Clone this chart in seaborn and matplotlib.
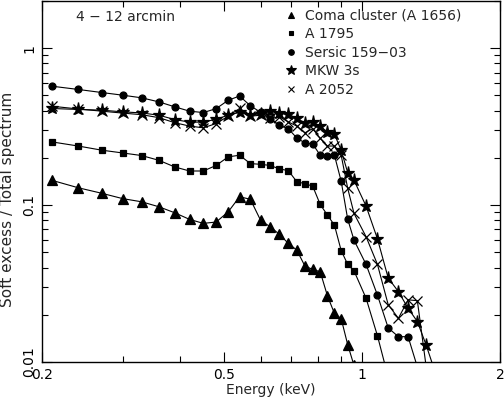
import pandas as pd
import seaborn as sns
import matplotlib.pyplot as plt
from matplotlib.lines import Line2D
from matplotlib.ticker import FixedLocator, NullFormatter

# Энергии (кэВ)
e_coma = [0.21, 0.24, 0.27, 0.30, 0.33, 0.36, 0.39, 0.42, 0.45, 0.48, 0.51, 0.54, 0.57,
          0.60, 0.63, 0.66, 0.69, 0.72, 0.75, 0.78, 0.81, 0.84, 0.87, 0.90, 0.93, 0.96]
e_a1795 = e_coma + [1.02, 1.08, 1.14]
e_sersic = e_coma + [1.02, 1.08, 1.14, 1.20, 1.26, 1.32]
e_mkw = e_coma + [1.02, 1.08, 1.14, 1.20, 1.26, 1.32, 1.38, 1.44]
e_a2052 = e_coma + [1.02, 1.08, 1.14, 1.20, 1.26, 1.32, 1.38]

# Soft excess / Total spectrum
coma = [0.144, 0.129, 0.119, 0.110, 0.105, 0.0976, 0.0893, 0.0811, 0.0765, 0.078, 0.0906,
        0.113, 0.109, 0.0802, 0.0727, 0.0651, 0.057, 0.0517, 0.0409, 0.0389, 0.0376,
        0.0264, 0.0204, 0.0189, 0.0129, 0.0095]
a1795 = [0.253, 0.238, 0.224, 0.215, 0.207, 0.193, 0.175, 0.165, 0.165, 0.179, 0.203,
         0.208, 0.184, 0.182, 0.179, 0.170, 0.166, 0.141, 0.137, 0.132, 0.101, 0.0863,
         0.0746, 0.0513, 0.0419, 0.0381, 0.0255, 0.0147, 0.008]
sersic = [0.573, 0.546, 0.522, 0.502, 0.483, 0.455, 0.423, 0.397, 0.389, 0.412, 0.466,
          0.496, 0.430, 0.391, 0.356, 0.323, 0.307, 0.268, 0.249, 0.245, 0.208, 0.207,
          0.208, 0.142, 0.0814, 0.0598, 0.0419, 0.0267, 0.0165, 0.0145, 0.0145, 0.0093]
mkw = [0.413, 0.407, 0.403, 0.393, 0.387, 0.374, 0.351, 0.338, 0.338, 0.353, 0.374,
       0.391, 0.374, 0.383, 0.400, 0.384, 0.380, 0.357, 0.335, 0.339, 0.319, 0.292,
       0.283, 0.224, 0.161, 0.144, 0.0986, 0.061, 0.0343, 0.0281, 0.022, 0.0181,
       0.0128, 0.0088]
a2052 = [0.427, 0.410, 0.397, 0.386, 0.377, 0.361, 0.335, 0.319, 0.311, 0.331, 0.369,
         0.413, 0.369, 0.374, 0.357, 0.365, 0.339, 0.319, 0.289, 0.307, 0.266, 0.238,
         0.238, 0.208, 0.128, 0.0885, 0.0629, 0.0419, 0.0232, 0.019, 0.0249, 0.0246,
         0.0093]

names = ['Coma cluster (A 1656)', 'A 1795', 'Sersic 159\u221203', 'MKW 3s', 'A 2052']
energies = [e_coma, e_a1795, e_sersic, e_mkw, e_a2052]
ratios = [coma, a1795, sersic, mkw, a2052]
markers = ['^', 's', 'o', '*', 'x']
msizes = [7, 4.5, 5, 9.5, 6.5]
leg_sizes = [5, 3.5, 4, 7, 5]

df = pd.concat([pd.DataFrame({'Energy': e, 'Ratio': r, 'Cluster': n})
                for e, r, n in zip(energies, ratios, names)])

sns.set_style('ticks')
plt.rcParams['font.family'] = ['DejaVu Sans']
plt.rcParams['font.size'] = 10

fig = plt.figure(figsize=(5.04, 3.97), dpi=100)
ax = fig.add_axes([42 / 504, 1 - 362 / 397, 458 / 504, 361 / 397])

for n, m, s in zip(names, markers, msizes):
    sub = df[df['Cluster'] == n]
    sns.lineplot(data=sub, x='Energy', y='Ratio', marker=m, markersize=s,
                 color='black', mfc='black', mec='black', mew=0.9,
                 linewidth=0.8, estimator=None, sort=False, ax=ax)

ax.set_xscale('log')
ax.set_yscale('log')
ax.set_xlim(0.2, 2)
ax.set_ylim(0.01, 2)

ax.xaxis.set_major_locator(FixedLocator([0.2, 0.5, 1, 2]))
ax.xaxis.set_minor_locator(FixedLocator([0.3, 0.4, 0.6, 0.7, 0.8, 0.9]))
ax.set_xticklabels(['0.2', '0.5', '1', '2'])
ax.xaxis.set_minor_formatter(NullFormatter())
ax.yaxis.set_major_locator(FixedLocator([0.01, 0.1, 1]))
ax.set_yticklabels(['0.01', '0.1', '1'], rotation=90, va='center')
ax.yaxis.set_minor_formatter(NullFormatter())

ax.tick_params(which='both', direction='in', top=True, right=True, colors='black',
               labelsize=10, width=0.8)
ax.tick_params(which='major', length=7, pad=4)
ax.tick_params(which='minor', length=4)
for sp in ax.spines.values():
    sp.set_linewidth(1)
    sp.set_color('black')

ax.set_xlabel('Energy (keV)', fontsize=10)
ax.xaxis.set_label_coords(0.5, -0.058)
ax.set_ylabel('Soft excess / Total spectrum', fontsize=11)
ax.yaxis.set_label_coords(-0.058, 0.45)

ax.text(0.075, 0.955, '4 \u2212 12 arcmin', transform=ax.transAxes, fontsize=10,
        va='center', ha='left')

handles = [Line2D([], [], linestyle='none', marker=m, markersize=s, color='black',
                  mew=0.8) for m, s in zip(markers, leg_sizes)]
ax.legend(handles, names, loc='upper left', bbox_to_anchor=(0.51, 1.006),
          frameon=False, handlelength=0.8, handletextpad=0.6, labelspacing=0.33,
          borderpad=0.2, fontsize=10)

plt.savefig('out.png', dpi=100)
